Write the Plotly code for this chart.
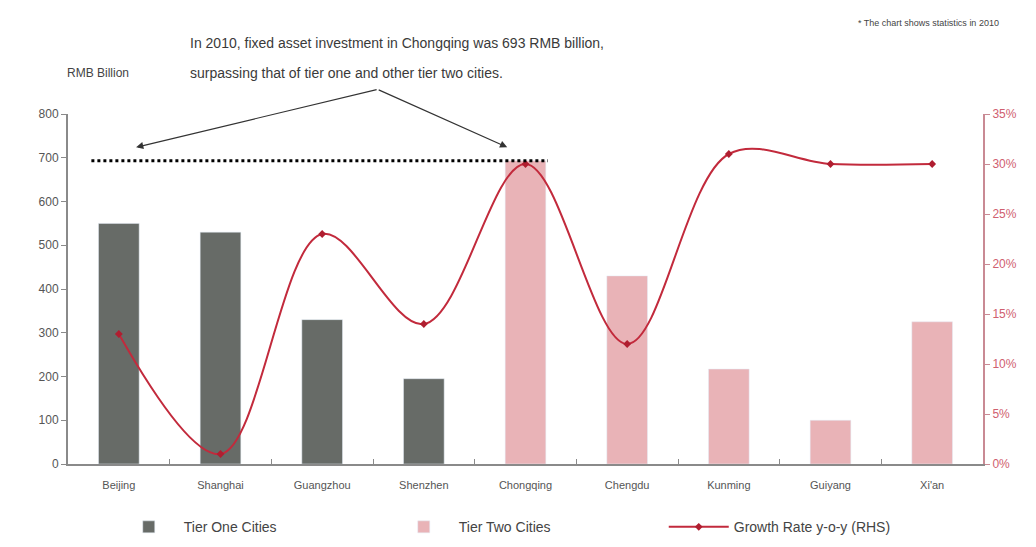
import plotly.graph_objects as go

# 2010 fixed asset investment by city (RMB billion) and y-o-y growth (%)
cities = ['Beijing', 'Shanghai', 'Guangzhou', 'Shenzhen', 'Chongqing',
          'Chengdu', 'Kunming', 'Guiyang', "Xi'an"]
tier_one = [550, 530, 330, 195, None, None, None, None, None]
tier_two = [None, None, None, None, 693, 430, 217, 100, 325]
growth = [13, 1, 23, 14, 30, 12, 31, 30, 30]
chongqing_value = 693

left_ticks = [0, 100, 200, 300, 400, 500, 600, 700, 800]
right_ticks = [0, 5, 10, 15, 20, 25, 30, 35]
right_labels = [f"{v}%" for v in right_ticks]

GREY = '#676b67'
PINK = '#e9b3b7'
RED = '#c22a3c'
FONT = 'Liberation Sans'

fig = go.Figure()

fig.add_trace(go.Bar(
    x=cities, y=tier_one, name='Tier One Cities',
    marker_color=GREY, width=0.4
))
fig.add_trace(go.Bar(
    x=cities, y=tier_two, name='Tier Two Cities',
    marker_color=PINK, width=0.4
))
fig.add_trace(go.Scatter(
    x=cities, y=growth, name='Growth Rate y-o-y (RHS)', yaxis='y2',
    mode='lines+markers',
    line=dict(color=RED, width=2, shape='spline', smoothing=1.0),
    marker=dict(color='#b01e30', size=6, symbol='diamond')
))

# dotted benchmark line at Chongqing's level
fig.add_shape(
    type='line', xref='x', yref='y',
    x0=-0.27, x1=4.22, y0=chongqing_value, y1=chongqing_value,
    line=dict(color='black', width=3, dash='dot'), layer='above'
)

# arrows from the callout text
for tx, ax in [(0.17, 242), (3.82, -130)]:
    fig.add_annotation(
        x=tx, y=724, xref='x', yref='y', ax=ax, ay=-58,
        showarrow=True, arrowhead=2, arrowsize=1.2, arrowwidth=1.2,
        arrowcolor='#333333', text=''
    )

fig.add_annotation(
    text='In 2010, fixed asset investment in Chongqing was 693 RMB billion,',
    xref='paper', yref='paper', x=0.131, y=1.203, xanchor='left', yanchor='middle',
    showarrow=False, font=dict(family=FONT, size=14, color='#3a3a3a')
)
fig.add_annotation(
    text='surpassing that of tier one and other tier two cities.',
    xref='paper', yref='paper', x=0.131, y=1.117, xanchor='left', yanchor='middle',
    showarrow=False, font=dict(family=FONT, size=14, color='#3a3a3a')
)
fig.add_annotation(
    text='RMB Billion', xref='paper', yref='paper', x=-0.003, y=1.09,
    xanchor='left', yanchor='bottom', showarrow=False,
    font=dict(family=FONT, size=12, color='#444444')
)
fig.add_annotation(
    text='* The chart shows statistics in 2010', xref='paper', yref='paper',
    x=1.02, y=1.24, xanchor='right', yanchor='bottom', showarrow=False,
    font=dict(family=FONT, size=9, color='#444444')
)

fig.update_layout(
    width=1036, height=547,
    margin=dict(l=60, r=61, t=106, b=82),
    paper_bgcolor='white', plot_bgcolor='white',
    barmode='overlay',
    font=dict(family=FONT, color='#555555'),
    showlegend=True,
    legend=dict(orientation='h', x=0.05, xanchor='left', y=-0.135, yanchor='top',
                font=dict(family=FONT, size=14, color='#444444'),
                itemwidth=60, entrywidth=200, entrywidthmode='pixels'),
    xaxis=dict(
        type='category', showgrid=False, showline=True, linecolor='#8a8a8a',
        linewidth=2, ticks='inside', tickson='boundaries', ticklen=5,
        tickcolor='#8a8a8a', tickfont=dict(size=11, color='#555555'),
        ticklabelstandoff=10
    ),
    yaxis=dict(
        range=[0, 800], tickvals=left_ticks, showgrid=False, zeroline=False,
        showline=True, linecolor='#8a8a8a', linewidth=2, ticks='outside',
        ticklen=5, tickcolor='#8a8a8a', tickfont=dict(size=12, color='#555555')
    ),
    yaxis2=dict(
        overlaying='y', side='right', range=[0, 35], tickvals=right_ticks,
        ticktext=right_labels, showgrid=False, zeroline=False,
        showline=True, linecolor='#c98a94', linewidth=2, ticks='outside',
        ticklen=5, tickcolor='#c98a94', tickfont=dict(size=12, color='#d0606f')
    )
)

fig.write_html("out.html")
